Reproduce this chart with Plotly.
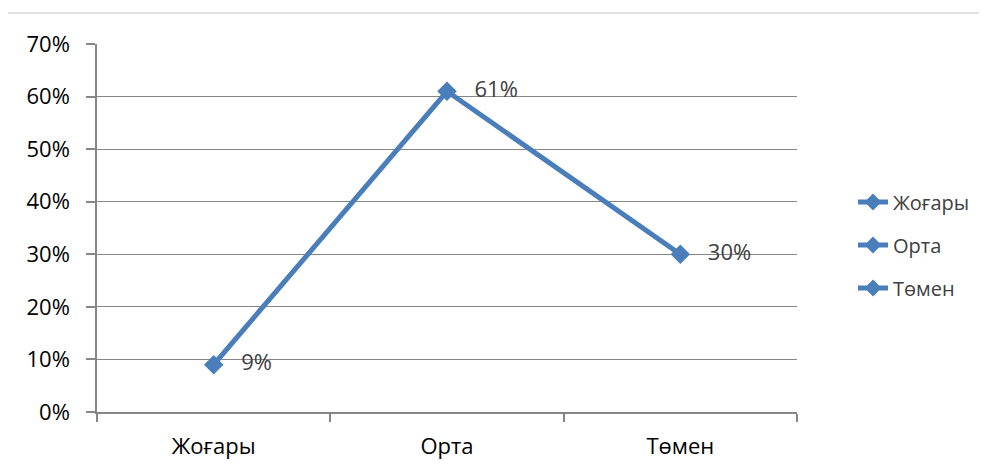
import plotly.graph_objects as go

categories = ["Жоғары", "Орта", "Төмен"]
values = [0.09, 0.61, 0.30]
labels = ["9%", "61%", "30%"]
y_ticks = [0, 0.1, 0.2, 0.3, 0.4, 0.5, 0.6, 0.7]
y_tick_labels = ["0%", "10%", "20%", "30%", "40%", "50%", "60%", "70%"]

blue = "#4A7EBB"
grey = "#868686"
font_family = "Open Sans"

# page body has an 8px margin: figure origin sits at (8, 8) in the window
W, H = 979, 464
L, T = 89, 36          # plot area left/top in figure coords (97, 44 in window)
PW, PH = 700, 368      # plot area size

fig = go.Figure()
fig.add_trace(go.Scatter(
    x=categories, y=values, mode="lines+markers+text",
    text=labels, texttemplate="   %{text}", textposition="middle right",
    textfont=dict(size=22, color="#404040", family=font_family),
    line=dict(color=blue, width=5),
    marker=dict(symbol="diamond", size=15, color=blue),
    showlegend=False, cliponaxis=False,
))
for c in categories:
    fig.add_trace(go.Scatter(
        x=[None], y=[None], mode="lines+markers", name=c,
        line=dict(color=blue, width=5),
        marker=dict(symbol="diamond", size=13, color=blue),
        legendgroup=c,
    ))

fig.update_layout(
    width=W, height=H,
    margin=dict(l=L, r=W - L - PW, t=T, b=H - T - PH),
    paper_bgcolor="white", plot_bgcolor="white",
    font=dict(family=font_family, size=22, color="#000000"),
    legend=dict(x=(853 - 97) / PW, xanchor="left", y=(412 - 245) / PH, yanchor="middle",
                font=dict(size=20, color="#404040", family=font_family),
                tracegroupgap=14, bgcolor="rgba(0,0,0,0)"),
    shapes=[dict(type="rect", xref="paper", yref="paper",
                 x0=(7 - 97) / PW, x1=(1010 - 97) / PW,
                 y0=(412 - 490) / PH, y1=(412 - 13) / PH,
                 line=dict(color="#D9D9D9", width=1.5), layer="below")],
)
fig.update_xaxes(
    type="category", range=[-0.5, 2.5], showgrid=False, showline=True,
    linecolor=grey, linewidth=1.5,
    ticks="outside", tickson="boundaries", ticklen=8, tickcolor=grey, tickwidth=1.5,
    tickfont=dict(size=22, color="#000000"), ticklabelstandoff=14,
)
fig.update_yaxes(
    range=[0, 0.7], tickvals=y_ticks, ticktext=y_tick_labels,
    showgrid=True, gridcolor=grey, gridwidth=1,
    showline=True, linecolor=grey, linewidth=1.5,
    ticks="outside", ticklen=9, tickcolor=grey, tickwidth=1.5,
    tickfont=dict(size=22, color="#000000"), zeroline=False,
    ticklabelstandoff=12,
)
fig.write_html("out.html")
